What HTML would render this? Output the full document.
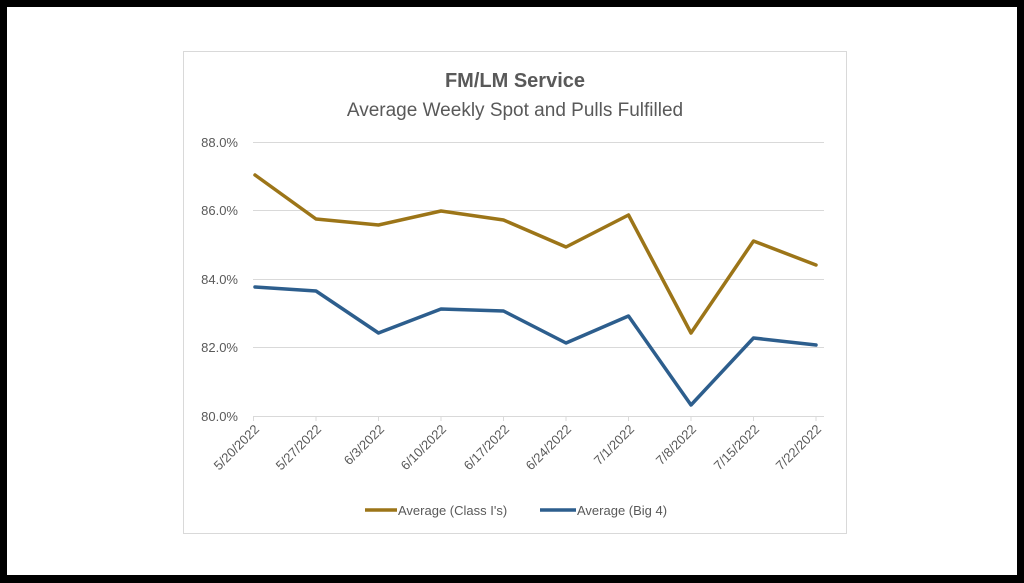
<!DOCTYPE html>
<html><head><style>
html,body{margin:0;padding:0;background:#000;}
body{width:1024px;height:583px;position:relative;overflow:hidden;}
</style></head><body>
<svg width="1024" height="583" xmlns="http://www.w3.org/2000/svg" style="position:absolute;left:0;top:0">
<rect x="7" y="7" width="1010" height="568" fill="#fff"/>
<rect x="183.5" y="51.5" width="663" height="482" fill="#fff" stroke="#d9d9d9" stroke-width="1"/>
<g font-family="'Liberation Sans',sans-serif" fill="#595959">
<text x="515" y="87" text-anchor="middle" font-size="20" font-weight="bold">FM/LM Service</text>
<text x="515" y="116" text-anchor="middle" font-size="19">Average Weekly Spot and Pulls Fulfilled</text>
<g stroke="#d9d9d9" stroke-width="1">
<line x1="253" x2="824" y1="142.5" y2="142.5"/>
<line x1="253" x2="824" y1="210.5" y2="210.5"/>
<line x1="253" x2="824" y1="279.5" y2="279.5"/>
<line x1="253" x2="824" y1="347.5" y2="347.5"/>
<line x1="253" x2="824" y1="416.5" y2="416.5"/>
<g id="t"></g>
<line x1="253.5" x2="253.5" y1="416" y2="421"/><line x1="316" x2="316" y1="416" y2="421"/><line x1="378.5" x2="378.5" y1="416" y2="421"/><line x1="441" x2="441" y1="416" y2="421"/><line x1="503.5" x2="503.5" y1="416" y2="421"/><line x1="566" x2="566" y1="416" y2="421"/><line x1="628.5" x2="628.5" y1="416" y2="421"/><line x1="691" x2="691" y1="416" y2="421"/><line x1="753.5" x2="753.5" y1="416" y2="421"/><line x1="816" x2="816" y1="416" y2="421"/>
</g>
<g font-size="13" text-anchor="end">
<text x="238" y="147">88.0%</text><text x="238" y="215">86.0%</text><text x="238" y="284">84.0%</text><text x="238" y="352">82.0%</text><text x="238" y="421">80.0%</text>
</g>
<g font-size="13" text-anchor="end">
<text transform="translate(260,430) rotate(-45)">5/20/2022</text>
<text transform="translate(322,430) rotate(-45)">5/27/2022</text>
<text transform="translate(385,430) rotate(-45)">6/3/2022</text>
<text transform="translate(447,430) rotate(-45)">6/10/2022</text>
<text transform="translate(510,430) rotate(-45)">6/17/2022</text>
<text transform="translate(572,430) rotate(-45)">6/24/2022</text>
<text transform="translate(635,430) rotate(-45)">7/1/2022</text>
<text transform="translate(697,430) rotate(-45)">7/8/2022</text>
<text transform="translate(760,430) rotate(-45)">7/15/2022</text>
<text transform="translate(822,430) rotate(-45)">7/22/2022</text>
</g>
<polyline fill="none" stroke="#9C7518" stroke-width="3.5" stroke-linejoin="round" stroke-linecap="round" points="255,175 316,219 378.5,225 441,211 503.5,220 566,247 628.5,215 691,333 753.5,241 816,265"/>
<polyline fill="none" stroke="#2D5E8D" stroke-width="3.5" stroke-linejoin="round" stroke-linecap="round" points="255,287 316,291 378.5,333 441,309 503.5,311 566,343 628.5,316 691,405 753.5,338 816,345"/>
<line x1="365" x2="397" y1="510" y2="510" stroke="#9C7518" stroke-width="3.5"/>
<text x="398" y="515" font-size="13">Average (Class I's)</text>
<line x1="540" x2="576" y1="510" y2="510" stroke="#2D5E8D" stroke-width="3.5"/>
<text x="577" y="515" font-size="13">Average (Big 4)</text>
</g>
</svg>
</body></html>
